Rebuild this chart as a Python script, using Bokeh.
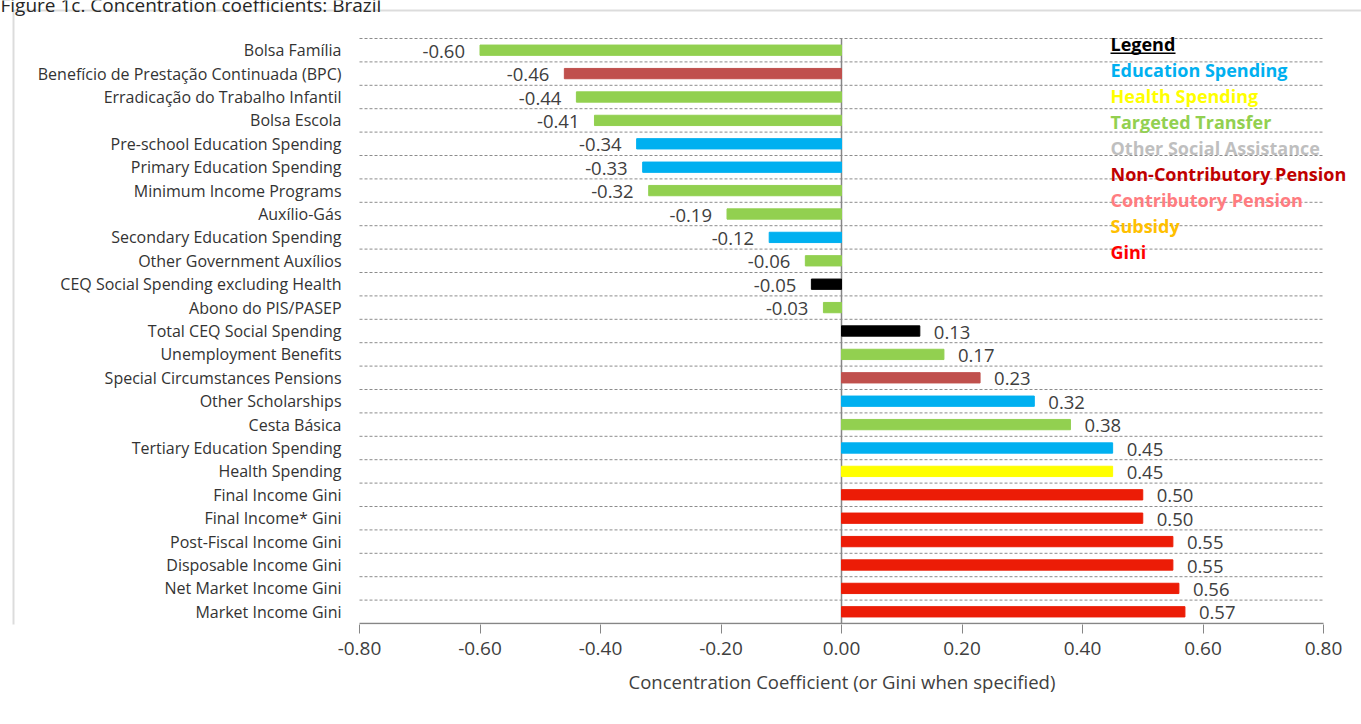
from bokeh.plotting import figure
from bokeh.models import (ColumnDataSource, Range1d, FixedTicker, NumeralTickFormatter,
                          Label, BoxAnnotation, Title)
from bokeh.core.properties import value
from bokeh.embed import file_html
from bokeh.resources import INLINE

# Programmes, top to bottom
categories = [
    "Bolsa Família",
    "Benefício de Prestação Continuada (BPC)",
    "Erradicação do Trabalho Infantil",
    "Bolsa Escola",
    "Pre-school Education Spending",
    "Primary Education Spending",
    "Minimum Income Programs",
    "Auxílio-Gás",
    "Secondary Education Spending",
    "Other Government Auxílios",
    "CEQ Social Spending excluding Health",
    "Abono do PIS/PASEP",
    "Total CEQ Social Spending",
    "Unemployment Benefits",
    "Special Circumstances Pensions",
    "Other Scholarships",
    "Cesta Básica",
    "Tertiary Education Spending",
    "Health Spending",
    "Final Income Gini",
    "Final Income* Gini",
    "Post-Fiscal Income Gini",
    "Disposable Income Gini",
    "Net Market Income Gini",
    "Market Income Gini",
]

coefficients = [
    -0.60, -0.46, -0.44, -0.41, -0.34, -0.33, -0.32, -0.19, -0.12, -0.06,
    -0.05, -0.03, 0.13, 0.17, 0.23, 0.32, 0.38, 0.45, 0.45, 0.50,
    0.50, 0.55, 0.55, 0.56, 0.57,
]

kinds = [
    "targeted", "noncontrib", "targeted", "targeted", "education", "education",
    "targeted", "targeted", "education", "targeted", "total", "targeted",
    "total", "targeted", "noncontrib", "education", "targeted", "education",
    "health", "gini", "gini", "gini", "gini", "gini", "gini",
]

bar_colors = {
    "targeted": "#92D050",
    "noncontrib": "#C0504D",
    "education": "#00B0F0",
    "total": "#000000",
    "health": "#FFFF00",
    "gini": "#EC1C06",
}

legend_items = [
    "Education Spending", "Health Spending", "Targeted Transfer",
    "Other Social Assistance", "Non-Contributory Pension",
    "Contributory Pension", "Subsidy", "Gini",
]
legend_colors = [
    "#00B0F0", "#FFFF00", "#92D050", "#BFBFBF", "#C00000",
    "#FF7C80", "#FFC000", "#FF0000",
]

x_ticks = [-0.8, -0.6, -0.4, -0.2, 0.0, 0.2, 0.4, 0.6, 0.8]

n = len(categories)
rows = list(range(n))

# Page geometry (pixels): the plotting frame covers the whole canvas above the
# x axis, so that the caption, box and legend can sit anywhere on it.
W, H = 1361, 724
AXIS_BOTTOM = 100            # height of the x-axis panel
FRAME_H = H - AXIS_BOTTOM    # 624
PLOT_L, PLOT_R = 359, 1323   # where the value scale starts / ends
PLOT_T, PLOT_B = 38, 623     # top of first row / bottom of last row
px_per_unit = (PLOT_R - PLOT_L) / (x_ticks[-1] - x_ticks[0])
px_per_row = (PLOT_B - PLOT_T) / n

x_start = x_ticks[0] - PLOT_L / px_per_unit
x_end = x_ticks[-1] + (W - PLOT_R) / px_per_unit
y_top = -0.5 - PLOT_T / px_per_row
y_bottom = n - 0.5 + (FRAME_H - PLOT_B) / px_per_row

source = ColumnDataSource(dict(
    y=rows,
    value=coefficients,
    color=[bar_colors[k] for k in kinds],
    label=[f"{v:.2f}" for v in coefficients],
    align=["right" if v < 0 else "left" for v in coefficients],
    offset=[-15 if v < 0 else 14 for v in coefficients],
    name=categories,
    axis_left=[x_ticks[0]] * n,
))

FONT = "Open Sans"
TEXT = "#404040"
GREY = "#868686"

p = figure(width=W, height=H, output_backend="svg", toolbar_location=None,
           x_range=Range1d(x_start, x_end), y_range=Range1d(y_bottom, y_top),
           y_axis_location=None,
           min_border_left=0, min_border_right=0, min_border_top=0,
           min_border_bottom=AXIS_BOTTOM)
p.outline_line_color = None
p.background_fill_color = "white"
p.border_fill_color = "white"
p.grid.visible = False

# chart box (left and top edges)
p.add_layout(BoxAnnotation(left=13, right=W + 50, top=FRAME_H - 10, bottom=-50,
                           left_units="screen", right_units="screen",
                           top_units="screen", bottom_units="screen",
                           fill_color=None, fill_alpha=0, line_color="#8C8C8C",
                           line_width=2, level="underlay"))

# dashed separators between rows, across the value scale only
sep = [r - 0.5 for r in rows]
p.segment(x0=[x_ticks[0]] * n, x1=[x_ticks[-1]] * n, y0=sep, y1=sep,
          line_color="#8C8C8C", line_dash="3 2", line_width=1)

# value axis line and zero line
p.segment(x0=[x_ticks[0]], x1=[x_ticks[-1]], y0=[n - 0.5], y1=[n - 0.5],
          line_color=GREY, line_width=1.3)
p.segment(x0=[0], x1=[0], y0=[-0.5], y1=[n - 0.5], line_color=GREY, line_width=1.5)

# value axis: ticks and labels
p.xaxis.ticker = FixedTicker(ticks=x_ticks)
p.xaxis.formatter = NumeralTickFormatter(format="0.00")
p.xaxis.axis_line_color = None
p.xaxis.major_tick_line_color = GREY
p.xaxis.major_tick_in = 0
p.xaxis.major_tick_out = 9
p.xaxis.minor_tick_line_color = None
p.xaxis.major_label_standoff = 8
p.xaxis.major_label_text_font = FONT
p.xaxis.major_label_text_font_size = "19px"
p.xaxis.major_label_text_color = TEXT

# axis title, placed under the middle of the value scale
AXIS_TITLE_W = 426
scale_centre = (PLOT_L + PLOT_R) / 2
p.add_layout(Title(text="Concentration Coefficient (or Gini when specified)",
                   align="left", offset=scale_centre - AXIS_TITLE_W / 2, standoff=18,
                   text_font=FONT, text_font_style="normal",
                   text_font_size="18.5px", text_color=TEXT), "below")

# bars and value labels
p.hbar(y="y", left=0, right="value", height=0.44, color="color", source=source)
p.text(x="value", y="y", text="label", source=source, text_align="align",
       x_offset="offset", y_offset=1, text_baseline="middle",
       text_font=value(FONT), text_font_size="18.5px", text_color=TEXT)

# category names to the left of the value scale
p.text(x="axis_left", y="y", text="name", source=source, text_align="right",
       x_offset=-18, text_baseline="middle", text_font=value(FONT),
       text_font_size="16px", text_color="#333333")

# legend block (screen units measured from the frame's bottom-left corner)
leg_x = 1110
leg_top = FRAME_H - 43
step = 26.1
p.add_layout(Label(x=leg_x, y=leg_top, x_units="screen", y_units="screen",
                   text="Legend", text_font=FONT, text_font_style="bold",
                   text_font_size="18px", text_color="#000000",
                   text_baseline="middle"))
p.add_layout(BoxAnnotation(left=leg_x, right=leg_x + 65, bottom=FRAME_H - 53.5,
                           top=FRAME_H - 52, left_units="screen", right_units="screen",
                           top_units="screen", bottom_units="screen",
                           fill_color="#000000", fill_alpha=1, line_color=None))
for i, (name, col) in enumerate(zip(legend_items, legend_colors)):
    p.add_layout(Label(x=leg_x, y=leg_top - step * (i + 1), x_units="screen",
                       y_units="screen", text=name, text_font=FONT,
                       text_font_style="bold", text_font_size="18px",
                       text_color=col, text_baseline="middle"))

# caption, running off the top edge
p.add_layout(Label(x=0, y=FRAME_H - 4, x_units="screen", y_units="screen",
                   text="Figure 1c. Concentration coefficients: Brazil",
                   text_font=FONT, text_font_size="19px", text_color="#262626",
                   text_baseline="alphabetic"))

open("out.html", "w").write(file_html(p, INLINE))
